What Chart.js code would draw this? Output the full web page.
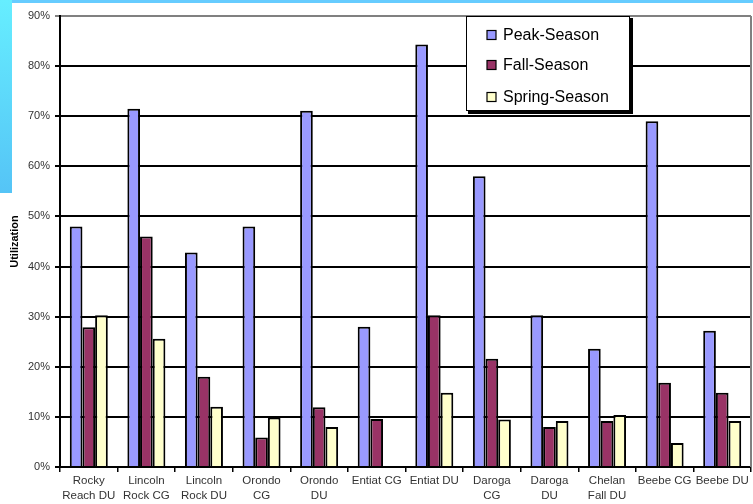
<!DOCTYPE html>
<html>
<head>
<meta charset="utf-8">
<script src="https://cdn.jsdelivr.net/npm/chart.js@4/dist/chart.umd.min.js"></script>
<style>
  body { margin: 0; background: #fff; }
  #wrap { position: relative; width: 753px; height: 504px; }
  #topstrip { position: absolute; left: 0; top: 0; width: 753px; height: 3px; background: #66ccff; }
  #leftstrip { position: absolute; left: 0; top: 0; width: 12px; height: 193px;
    background: linear-gradient(#66eeff, #55c4f6); }
</style>
</head>
<body>
<div id="wrap">
  <canvas id="chart" width="753" height="504"></canvas>
  <div id="topstrip"></div>
  <div id="leftstrip"></div>
</div>
<script>
// sites along the river
const sites = [
  ["Rocky", "Reach DU"], ["Lincoln", "Rock CG"], ["Lincoln", "Rock DU"],
  ["Orondo", "CG"], ["Orondo", "DU"], "Entiat CG", "Entiat DU",
  ["Daroga", "CG"], ["Daroga", "DU"], ["Chelan", "Fall DU"], "Beebe CG", "Beebe DU"
]
// utilization in %
const peakSeason   = [48.0, 71.5, 42.8, 48.0, 71.1, 28.0, 84.3, 58.0, 30.3, 23.6, 69.0, 27.2]
const fallSeason   = [27.9, 46.0, 18.0, 5.9, 11.9, 9.6, 30.3, 21.6, 8.0, 9.2, 16.8, 14.8]
const springSeason = [30.3, 25.6, 12.0, 9.9, 8.0, 0, 14.8, 9.5, 9.2, 10.4, 4.8, 9.2]
const yTicks = [0, 10, 20, 30, 40, 50, 60, 70, 80, 90]

const font = "'Liberation Sans', Arial, sans-serif"

// legend box drawn like the old excel one (with shadow)
const boxLegend = {
  id: "boxLegend",
  afterDraw(chart) {
    const ctx = chart.ctx
    const a = chart.chartArea
    // gray plot border on the right
    ctx.save()
    ctx.strokeStyle = "#808080"
    ctx.lineWidth = 2
    ctx.beginPath()
    ctx.moveTo(a.right, a.top)
    ctx.lineTo(a.right, a.bottom)
    ctx.stroke()

    const x = 466, y = 16, w = 164, h = 95
    ctx.fillStyle = "#000"
    ctx.fillRect(x + 2, y + 2, w + 1, h + 1)
    ctx.fillStyle = "#fff"
    ctx.fillRect(x, y, w, h)
    ctx.strokeStyle = "#000"
    ctx.lineWidth = 1
    ctx.strokeRect(x + 0.5, y + 0.5, w - 1, h - 1)

    const rows = [35, 65, 97]
    ctx.font = "16px " + font
    ctx.textBaseline = "middle"
    chart.data.datasets.forEach((ds, i) => {
      ctx.fillStyle = ds.backgroundColor
      ctx.fillRect(487, rows[i] - 4.5, 9, 9)
      ctx.strokeStyle = "#000"
      ctx.lineWidth = 1.2
      ctx.strokeRect(487, rows[i] - 4.5, 9, 9)
      ctx.fillStyle = "#000"
      ctx.fillText(ds.label, 503, rows[i] + 1)
    })
    ctx.restore()
  }
}

new Chart(document.getElementById("chart"), {
  type: "bar",
  data: {
    labels: sites,
    datasets: [
      { label: "Peak-Season", data: peakSeason, backgroundColor: "#9999ff" },
      { label: "Fall-Season", data: fallSeason, backgroundColor: "#993366" },
      { label: "Spring-Season", data: springSeason, backgroundColor: "#ffffcc" }
    ].map(d => Object.assign(d, { borderColor: "#000", borderWidth: 2,
      categoryPercentage: 0.66, barPercentage: 1.0 }))
  },
  options: {
    responsive: false,
    animation: false,
    layout: { padding: { top: 16, right: 2, left: 0, bottom: 0 } },
    plugins: { legend: { display: false }, tooltip: { enabled: false } },
    scales: {
      x: {
        grid: { drawOnChartArea: false, tickLength: 5, color: "#000", lineWidth: 1.5 },
        border: { color: "#000", width: 2 },
        ticks: { color: "#333", padding: 1, maxRotation: 0, autoSkip: false,
          font: { family: font, size: 11.5, lineHeight: 1.3 } },
        afterFit(s) { s.height = 37 }
      },
      y: {
        min: 0, max: 90,
        afterBuildTicks(s) { s.ticks = yTicks.map(v => ({ value: v })) },
        grid: { tickLength: 5, lineWidth: 2,
          color: c => (c.tick && c.tick.value === 90 ? "#808080" : "#000") },
        border: { color: "#000", width: 2 },
        ticks: { color: "#333", padding: 5, font: { family: font, size: 11 },
          callback: v => v + "%" },
        title: { display: true, text: "Utilization", color: "#000",
          padding: { top: 8, bottom: 0 }, font: { family: font, size: 11, weight: "bold" } },
        afterFit(s) { s.width = 60 }
      }
    }
  },
  plugins: [boxLegend]
})
</script>
</body>
</html>
